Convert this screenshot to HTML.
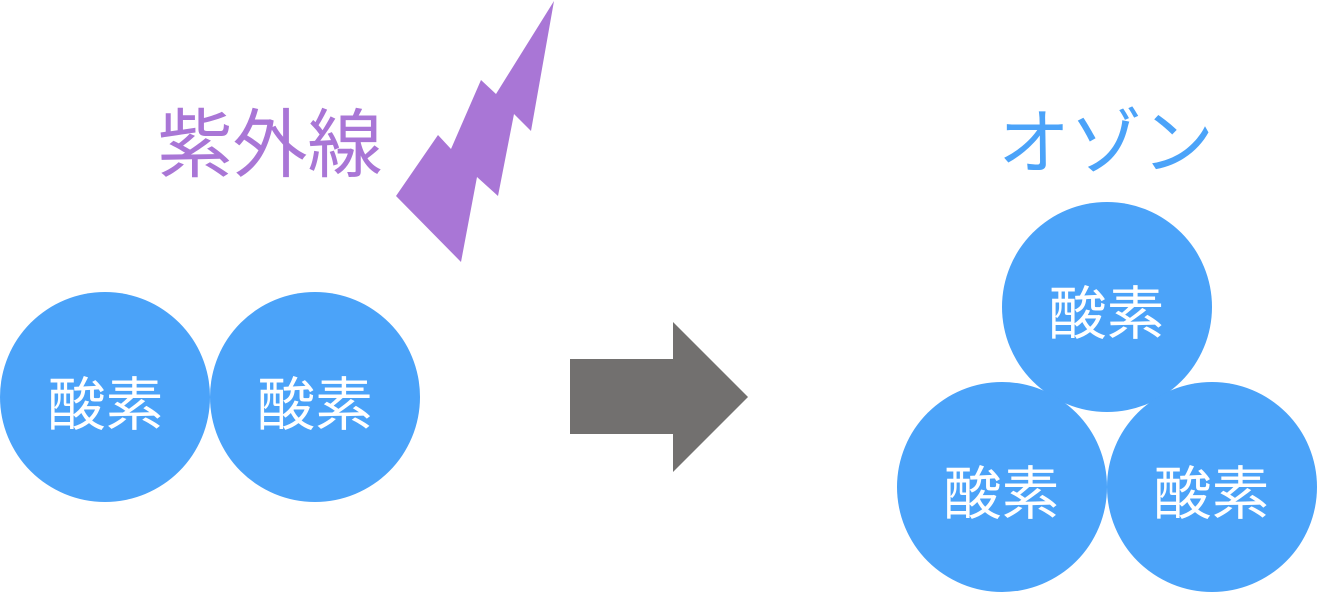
<!DOCTYPE html>
<html>
<head>
<meta charset="utf-8">
<style>
  html, body { margin: 0; padding: 0; background: #ffffff; }
  body { width: 1317px; height: 592px; overflow: hidden; }
  svg { display: block; }
  text { font-family: "Liberation Sans", "Noto Sans CJK JP", sans-serif; }
</style>
</head>
<body>
<svg width="1317" height="592" viewBox="0 0 1317 592" xmlns="http://www.w3.org/2000/svg">
  <!-- Lightning bolt -->
  <polygon points="554,1 531,131 514,114 498,196 477,177 461,262 396,196 438,135 451,149 481,80 496,94" fill="#a976d6"/>

  <!-- 紫外線 label -->
  <text x="270" y="171" font-size="75" fill="#a976d6" text-anchor="middle">紫外線</text>

  <!-- Left oxygen pair -->
  <circle cx="105" cy="397" r="105" fill="#4ba3f9"/>
  <circle cx="315" cy="397" r="105" fill="#4ba3f9"/>
  <text x="105.5" y="425" font-size="58" fill="#ffffff" text-anchor="middle">酸素</text>
  <text x="315" y="425" font-size="58" fill="#ffffff" text-anchor="middle">酸素</text>

  <!-- Arrow -->
  <polygon points="570,359 673,359 673,322 748,397 673,472 673,434 570,434" fill="#72706f"/>

  <!-- オゾン label -->
  <text x="1106" y="168" font-size="72" fill="#4ba3f9" text-anchor="middle">オゾン</text>

  <!-- Ozone triangle -->
  <circle cx="1107" cy="307" r="105" fill="#4ba3f9"/>
  <circle cx="1002" cy="487" r="105" fill="#4ba3f9"/>
  <circle cx="1212" cy="487" r="105" fill="#4ba3f9"/>
  <text x="1106.5" y="334" font-size="58" fill="#ffffff" text-anchor="middle">酸素</text>
  <text x="1001.5" y="514" font-size="58" fill="#ffffff" text-anchor="middle">酸素</text>
  <text x="1211.5" y="514" font-size="58" fill="#ffffff" text-anchor="middle">酸素</text>
</svg>
</body>
</html>
